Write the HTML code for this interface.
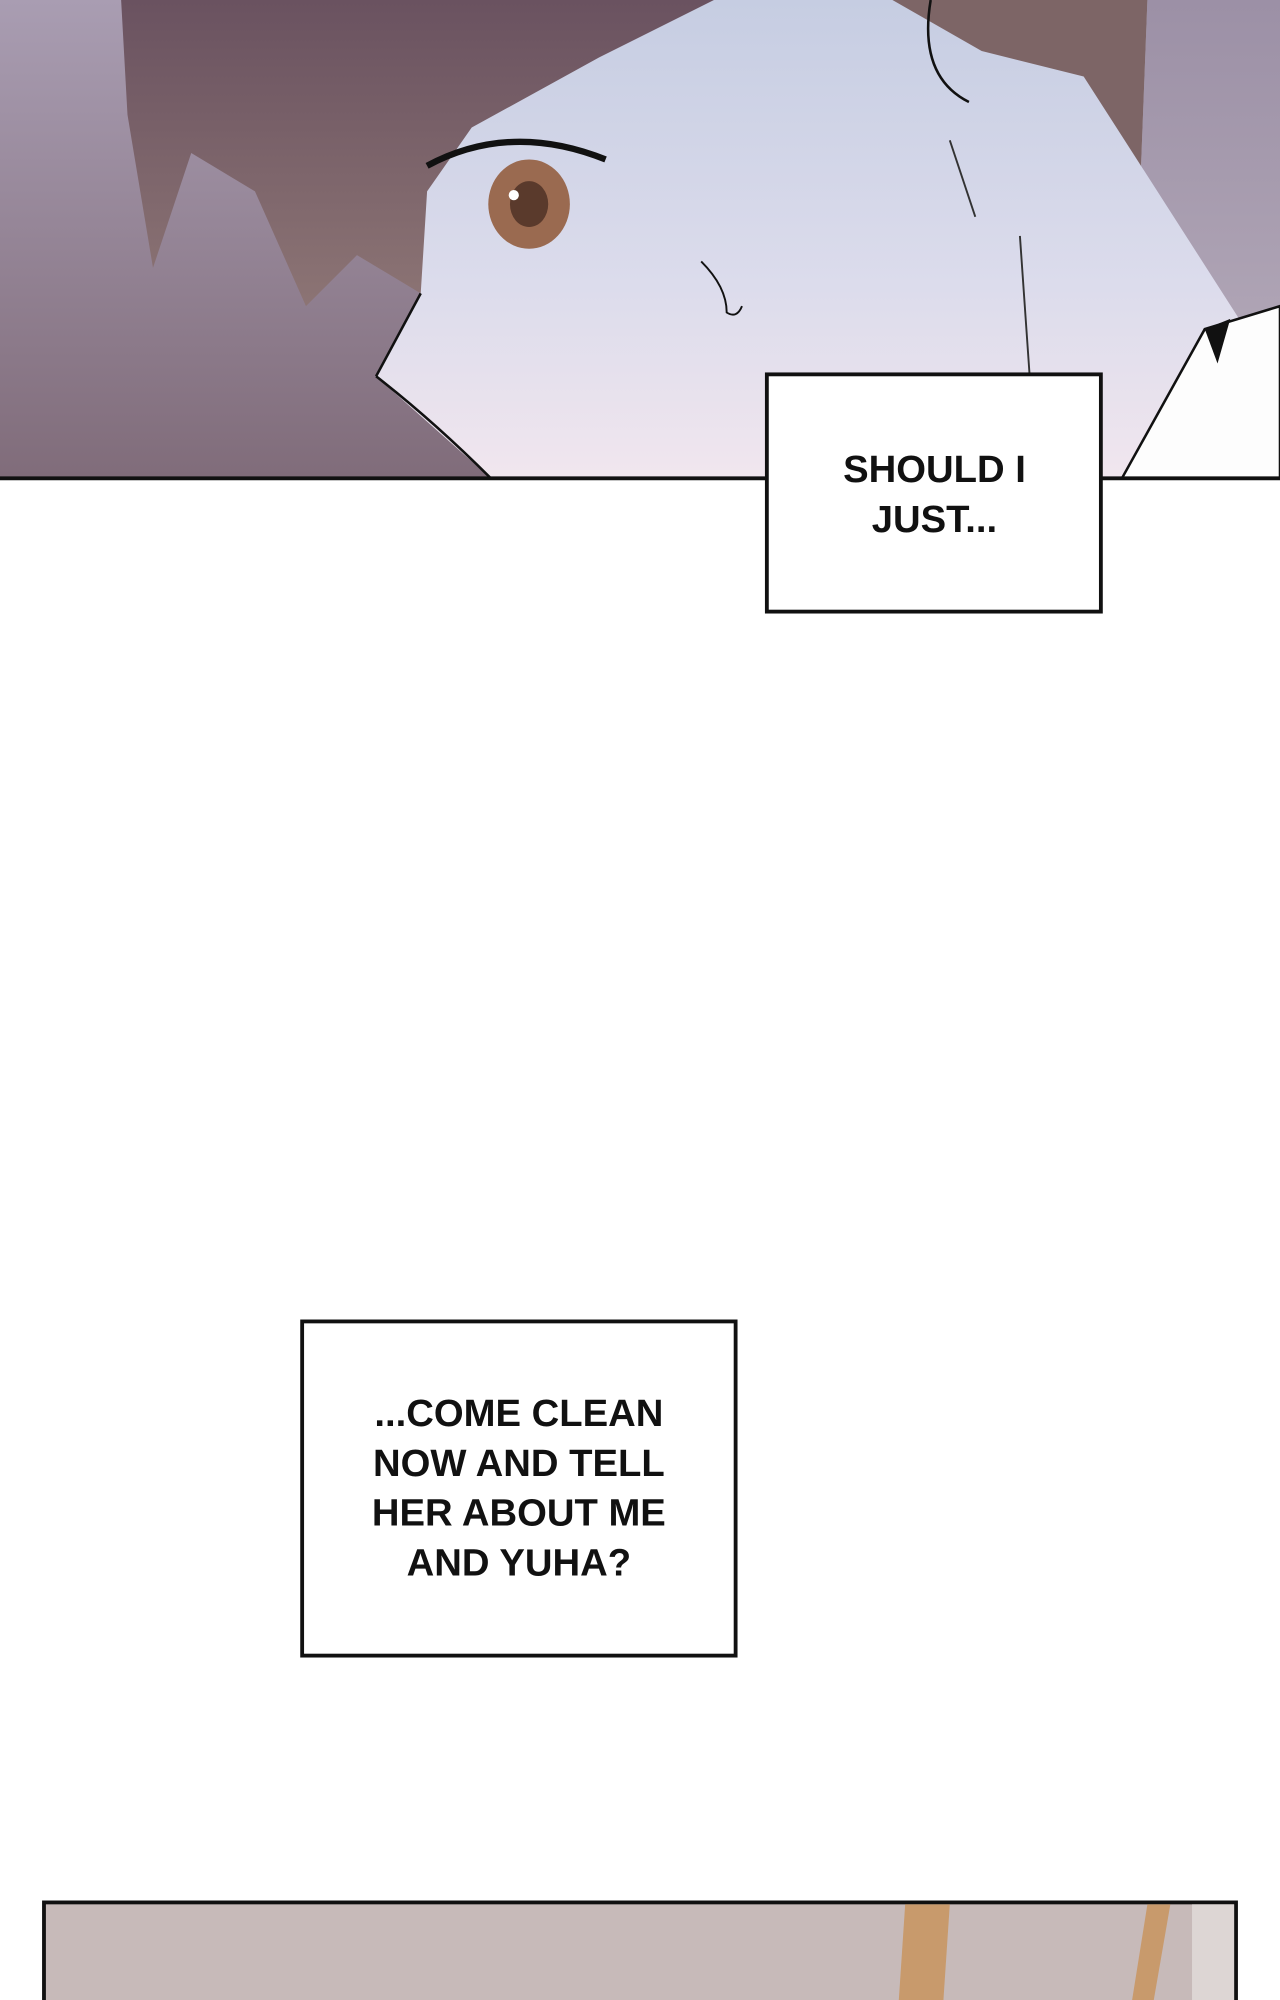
<!DOCTYPE html>
<html><head><meta charset="utf-8"><style>
html,body{margin:0;padding:0;background:#fff;}
svg{display:block;}
text{font-family:"Liberation Sans",sans-serif;font-weight:bold;fill:#111;}
</style></head><body>
<svg width="1280" height="2000" viewBox="0 0 1004 1568" preserveAspectRatio="none" xmlns="http://www.w3.org/2000/svg">
<defs>
<linearGradient id="bg" x1="0" y1="0" x2="0" y2="1">
<stop offset="0" stop-color="#a99db2"/><stop offset="1" stop-color="#806c7a"/></linearGradient>
<linearGradient id="face" x1="0" y1="0" x2="0" y2="1">
<stop offset="0" stop-color="#c6cde2"/><stop offset="0.6" stop-color="#dcdcec"/><stop offset="1" stop-color="#f1e6ee"/></linearGradient>
<linearGradient id="hair" x1="0" y1="0" x2="0" y2="1">
<stop offset="0" stop-color="#6a5260"/><stop offset="1" stop-color="#8c7474"/></linearGradient>
<linearGradient id="rbg" x1="0" y1="0" x2="0" y2="1">
<stop offset="0" stop-color="#9c90a6"/><stop offset="1" stop-color="#b8aebc"/></linearGradient>
</defs>
<rect x="0" y="0" width="1004" height="375" fill="url(#bg)"/>
<rect x="880" y="0" width="124" height="375" fill="url(#rbg)"/>
<polygon points="340,0 900,0 895,130 1004,300 880,375 385,375 295,295 330,230 300,110" fill="url(#face)"/>
<polygon points="95,0 560,0 470,45 370,100 335,150 330,230 280,200 240,240 200,150 150,120 120,210 100,90" fill="url(#hair)"/>
<polygon points="700,0 900,0 895,130 850,60 770,40" fill="#7d6566"/>
<polygon points="880,375 945,258 1004,240 1004,375" fill="#fdfdfd" stroke="#111" stroke-width="2"/>
<polygon points="945,258 965,250 955,285" fill="#111"/>
<path d="M295,295 L330,230 M295,295 Q340,330 385,375" stroke="#111" stroke-width="2" fill="none"/>
<path d="M335,130 Q400,95 475,125" stroke="#111" stroke-width="5" fill="none"/>
<ellipse cx="415" cy="160" rx="32" ry="35" fill="#9a6a50"/>
<ellipse cx="415" cy="160" rx="15" ry="18" fill="#5a3a2c"/>
<circle cx="403" cy="153" r="4" fill="#fff"/>
<path d="M550,205 Q570,225 570,245 Q578,250 582,240" stroke="#111" stroke-width="1.5" fill="none"/>
<path d="M730,0 Q720,60 760,80" stroke="#111" stroke-width="2" fill="none"/>
<path d="M745,110 L765,170 M800,185 L808,300" stroke="#333" stroke-width="1.5" fill="none"/>
<line x1="0" y1="375" x2="1004" y2="375" stroke="#111" stroke-width="3"/>
<rect x="601.5" y="293.5" width="262" height="186" fill="#fff" stroke="#111" stroke-width="3"/>
<text x="733" y="378" font-size="30" text-anchor="middle">SHOULD I</text>
<text x="733" y="417" font-size="30" text-anchor="middle">JUST...</text>
<rect x="237" y="1036" width="340" height="262" fill="#fff" stroke="#111" stroke-width="3"/>
<g font-size="30" text-anchor="middle">
<text x="407" y="1118">...COME CLEAN</text>
<text x="407" y="1157">NOW AND TELL</text>
<text x="407" y="1196">HER ABOUT ME</text>
<text x="407" y="1235">AND YUHA?</text>
</g>
<rect x="34.5" y="1491.5" width="935" height="90" fill="#c7bab9" stroke="#111" stroke-width="3"/>
<polygon points="710,1493 745,1493 740,1568 705,1568" fill="#c89a6c"/>
<polygon points="900,1493 918,1493 905,1568 888,1568" fill="#c89a6c"/>
<rect x="935" y="1493" width="33" height="75" fill="#ddd6d4"/>
</svg>
</body></html>
